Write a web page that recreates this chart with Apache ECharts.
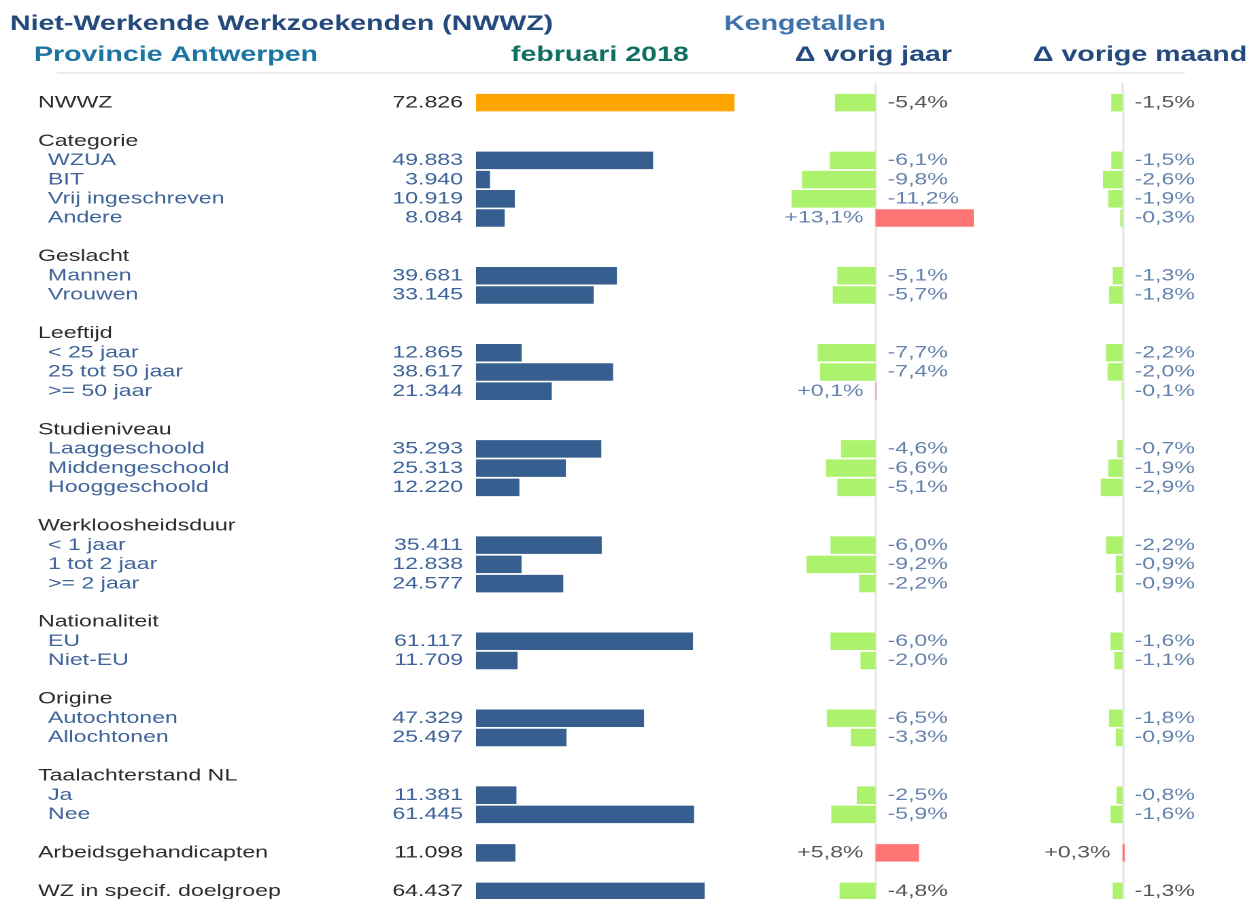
<!DOCTYPE html>
<html>
<head>
<meta charset="utf-8">
<script src="https://cdn.jsdelivr.net/npm/echarts@6.0.0/dist/echarts.min.js"></script>
<style>
  html, body { margin: 0; padding: 0; background: #fff; overflow: hidden; }
  /* het origineel is horizontaal uitgerekt: we tekenen smaller en rekken met scaleX */
  #chart { height: 899px; transform-origin: 0 0; }
</style>
</head>
<body>
<div id="chart"></div>
<script>
// rijen van de tabel (lege string = witregel)
const rowLabels = ['NWWZ', '', 'Categorie', 'WZUA', 'BIT', 'Vrij ingeschreven', 'Andere', '',
  'Geslacht', 'Mannen', 'Vrouwen', '',
  'Leeftijd', '< 25 jaar', '25 tot 50 jaar', '>= 50 jaar', '',
  'Studieniveau', 'Laaggeschoold', 'Middengeschoold', 'Hooggeschoold', '',
  'Werkloosheidsduur', '< 1 jaar', '1 tot 2 jaar', '>= 2 jaar', '',
  'Nationaliteit', 'EU', 'Niet-EU', '',
  'Origine', 'Autochtonen', 'Allochtonen', '',
  'Taalachterstand NL', 'Ja', 'Nee', '',
  'Arbeidsgehandicapten', '', 'WZ in specif. doelgroep']
// T = totaal, H = groepstitel, I = item
const rowKind = ['T', '', 'H', 'I', 'I', 'I', 'I', '',
  'H', 'I', 'I', '',
  'H', 'I', 'I', 'I', '',
  'H', 'I', 'I', 'I', '',
  'H', 'I', 'I', 'I', '',
  'H', 'I', 'I', '',
  'H', 'I', 'I', '',
  'H', 'I', 'I', '',
  'T', '', 'T']
// aantal NWWZ februari 2018
const counts = [72826, null, null, 49883, 3940, 10919, 8084, null,
  null, 39681, 33145, null,
  null, 12865, 38617, 21344, null,
  null, 35293, 25313, 12220, null,
  null, 35411, 12838, 24577, null,
  null, 61117, 11709, null,
  null, 47329, 25497, null,
  null, 11381, 61445, null,
  11098, null, 64437]
// evolutie t.o.v. vorig jaar (%)
const deltaYear = [-5.4, null, null, -6.1, -9.8, -11.2, 13.1, null,
  null, -5.1, -5.7, null,
  null, -7.7, -7.4, 0.1, null,
  null, -4.6, -6.6, -5.1, null,
  null, -6.0, -9.2, -2.2, null,
  null, -6.0, -2.0, null,
  null, -6.5, -3.3, null,
  null, -2.5, -5.9, null,
  5.8, null, -4.8]
// evolutie t.o.v. vorige maand (%)
const deltaMonth = [-1.5, null, null, -1.5, -2.6, -1.9, -0.3, null,
  null, -1.3, -1.8, null,
  null, -2.2, -2.0, -0.1, null,
  null, -0.7, -1.9, -2.9, null,
  null, -2.2, -0.9, -0.9, null,
  null, -1.6, -1.1, null,
  null, -1.8, -0.9, null,
  null, -0.8, -1.6, null,
  0.3, null, -1.3]

const S = 1.36
const W = 1249 / S
const u = x => x / S
const FONT = '"Liberation Sans", Arial, sans-serif'
const BLUE_TXT = '#3d6399'
const DARK_TXT = '#2b2b2b'

const dom = document.getElementById('chart')
dom.style.width = W + 'px'
dom.style.transform = 'scaleX(' + S + ')'

const fmtCount = v => String(v).replace(/\B(?=(\d{3})+(?!\d))/g, '.')
const fmtPct = v => (v > 0 ? '+' : '') + v.toFixed(1).replace('.', ',') + '%'
const txtColor = i => (rowKind[i] === 'I' ? BLUE_TXT : DARK_TXT)
const cats = rowLabels.map((_, i) => String(i))

const gridTop = 93
const gridH = 808

function pctGrid (left) {
  return { left: u(left), top: gridTop, width: u(225), height: gridH, containLabel: false, outerBoundsMode: 'none' }
}

function barData (arr) {
  return arr.map(v => v === null ? null : {
    value: v,
    itemStyle: { color: v < 0 ? '#adf26c' : '#ff7575' }
  })
}

function labelData (arr) {
  const out = []
  arr.forEach((v, i) => {
    if (v === null) return
    out.push({
      value: [0, i],
      label: { position: v < 0 ? 'right' : 'left', color: txtColor(i), formatter: fmtPct(v) }
    })
  })
  return out
}

function pctYAxis (idx) {
  return {
    type: 'category', gridIndex: idx, data: cats, inverse: true,
    axisTick: { show: false },
    axisLabel: { show: false },
    axisLine: { show: true, onZero: true, lineStyle: { color: '#e6e6e6', width: 1.6 } }
  }
}

const headFont = 'bold 21px ' + FONT
function headText (x, y, text, color) {
  return {
    type: 'text', x: u(x), y: y,
    style: { text: text, font: headFont, fill: color, verticalAlign: 'middle', textVerticalAlign: 'middle' }
  }
}

const myChart = echarts.init(dom, null, { renderer: 'canvas', devicePixelRatio: 2 })

const option = {
  animation: false,
  textStyle: { fontFamily: FONT },
  graphic: [
    headText(10, 24, 'Niet-Werkende Werkzoekenden (NWWZ)', '#244a7d'),
    headText(724, 24, 'Kengetallen', '#3f73ab'),
    headText(34, 55, 'Provincie Antwerpen', '#1c74a2'),
    headText(511, 55, 'februari 2018', '#0f6f63'),
    headText(795, 55, '\u0394 vorig jaar', '#244a7d'),
    headText(1033, 55, '\u0394 vorige maand', '#244a7d'),
    {
      type: 'line',
      shape: { x1: u(57), y1: 73, x2: u(1185), y2: 73 },
      style: { stroke: '#ebebeb', lineWidth: 2 }
    },
    // nullijnen lopen in het origineel tot net onder de kop
    {
      type: 'line',
      shape: { x1: u(875.5), y1: 83, x2: u(875.5), y2: gridTop },
      style: { stroke: '#e6e6e6', lineWidth: 1.6 }
    },
    {
      type: 'line',
      shape: { x1: u(1122.5), y1: 83, x2: u(1122.5), y2: gridTop },
      style: { stroke: '#e6e6e6', lineWidth: 1.6 }
    }
  ],
  grid: [
    { left: u(476), top: gridTop, width: u(284), height: gridH, containLabel: false, outerBoundsMode: 'none' },
    pctGrid(763),
    pctGrid(1010)
  ],
  xAxis: [
    { type: 'value', gridIndex: 0, min: 0, max: 80000, show: false },
    { type: 'value', gridIndex: 1, min: -15, max: 15, show: false },
    { type: 'value', gridIndex: 2, min: -15, max: 15, show: false }
  ],
  yAxis: [
    {
      type: 'category', gridIndex: 0, data: cats, inverse: true,
      axisTick: { show: false },
      axisLine: { show: false },
      axisLabel: {
        interval: 0,
        align: 'left',
        margin: u(476 - 38),
        formatter: (val, idx) => rowLabels[idx] ? '{' + rowKind[idx] + '|' + rowLabels[idx] + '}' : '',
        rich: {
          T: { color: DARK_TXT, fontSize: 17, fontFamily: FONT },
          H: { color: DARK_TXT, fontSize: 17, fontFamily: FONT },
          I: { color: BLUE_TXT, fontSize: 17, fontFamily: FONT, padding: [0, 0, 0, u(10)] }
        }
      }
    },
    pctYAxis(1),
    pctYAxis(2)
  ],
  series: [
    {
      name: 'aantal',
      type: 'bar',
      xAxisIndex: 0,
      yAxisIndex: 0,
      barCategoryGap: '9%',
      data: counts.map((v, i) => v === null ? null : {
        value: v,
        itemStyle: { color: i === 0 ? '#ffa500' : '#365f8f' },
        label: { color: txtColor(i) }
      }),
      label: {
        show: true,
        position: 'left',
        distance: u(13),
        fontSize: 17,
        fontFamily: FONT,
        formatter: p => fmtCount(p.value)
      }
    },
    {
      name: 'vorig jaar',
      type: 'bar',
      xAxisIndex: 1,
      yAxisIndex: 1,
      barCategoryGap: '9%',
      data: barData(deltaYear)
    },
    {
      name: 'vorig jaar label',
      type: 'scatter',
      xAxisIndex: 1,
      yAxisIndex: 1,
      symbolSize: 0,
      silent: true,
      label: { show: true, distance: u(12), fontSize: 17, fontFamily: FONT },
      data: labelData(deltaYear)
    },
    {
      name: 'vorige maand',
      type: 'bar',
      xAxisIndex: 2,
      yAxisIndex: 2,
      barCategoryGap: '9%',
      data: barData(deltaMonth)
    },
    {
      name: 'vorige maand label',
      type: 'scatter',
      xAxisIndex: 2,
      yAxisIndex: 2,
      symbolSize: 0,
      silent: true,
      label: { show: true, distance: u(12), fontSize: 17, fontFamily: FONT },
      data: labelData(deltaMonth)
    }
  ]
}

myChart.setOption(option)
</script>
</body>
</html>
